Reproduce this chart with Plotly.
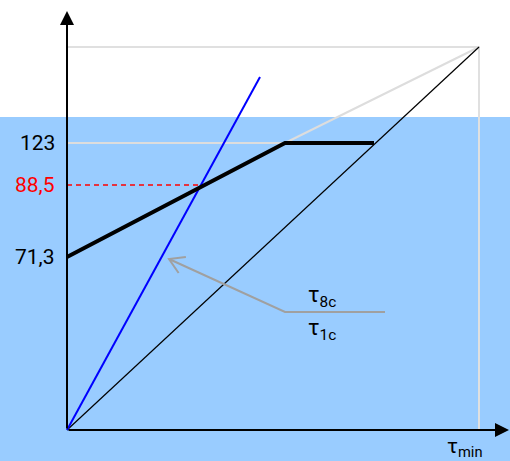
import math
import plotly.graph_objects as go

# Diagram coordinates: origin at the axes corner, units along each axis
x_range = [-67, 443]
y_range = [-31, 430]

# Level positions on the vertical axis and their labels
level_pos = [287, 245, 173]
level_text = ["123", "88,5", "71,3"]
level_color = ["black", "red", "black"]

# Thick characteristic: start, knee, end
thick_x = [0, 218, 307]
thick_y = [173, 287, 287]

# Upper-right corner of the reference box
corner = (412, 383)

# Steep blue line from the origin
blue_x = [0, 193]
blue_y = [0, 353]

# Red dashed level reaches the intersection point
red_x = [0, 133]
red_y = [245, 245]

# Gray pointer: label leader, knee, tip
pointer_x = [318, 218, 102]
pointer_y = [118, 118, 171]

# Tinted band upper edge
band_top = 313

fig = go.Figure()

def line(xs, ys, color, width, dash=None):
    fig.add_trace(go.Scatter(
        x=xs, y=ys, mode="lines", hoverinfo="skip", showlegend=False,
        line=dict(color=color, width=width, dash=dash),
    ))

# light guide lines
line([0, corner[0], corner[0]], [corner[1], corner[1], 0], "#E0E0E0", 2)
line([0, thick_x[1]], [thick_y[1], thick_y[1]], "#DDDDDD", 2)
line([thick_x[1], corner[0]], [thick_y[1], corner[1]], "#DDDDDD", 2)

# thin diagonal
line([0, corner[0]], [0, corner[1]], "black", 1.2)

# blue line
line(blue_x, blue_y, "#0000FF", 2)

# red dashed level
line(red_x, red_y, "red", 1.6, dash="5px,4px")

# thick characteristic
line(thick_x, thick_y, "black", 4)

# gray pointer with an open arrowhead computed from its last segment
line(pointer_x, pointer_y, "#A0A0A0", 2)
tx, ty = pointer_x[-1], pointer_y[-1]
dx, dy = pointer_x[-2] - tx, pointer_y[-2] - ty
ang = math.atan2(dy, dx)
head_len, head_ang = 17, math.radians(31)
hx = [tx + head_len * math.cos(ang + head_ang), tx, tx + head_len * math.cos(ang - head_ang)]
hy = [ty + head_len * math.sin(ang + head_ang), ty, ty + head_len * math.sin(ang - head_ang)]
line(hx, hy, "#A0A0A0", 2)

# axes with filled arrowheads
for ax_, ay_, x_, y_ in [(0, 0, 0, 419), (0, 0, 442, 0)]:
    fig.add_annotation(
        x=x_, y=y_, ax=ax_, ay=ay_, xref="x", yref="y", axref="x", ayref="y",
        text="", showarrow=True, arrowhead=2, arrowsize=1.4, arrowwidth=2,
        arrowcolor="black",
    )

# level labels
for pos, txt, col in zip(level_pos, level_text, level_color):
    fig.add_annotation(
        x=-10, y=pos, xref="x", yref="y", text=txt, showarrow=False,
        xanchor="right", yanchor="middle",
        font=dict(family="Roboto", size=21, color=col),
    )

# pointer labels
fig.add_annotation(x=255, y=134, xref="x", yref="y", text="τ<sub>8c</sub>",
                   showarrow=False, xanchor="center", yanchor="middle",
                   font=dict(family="Roboto", size=22, color="black"))
fig.add_annotation(x=255, y=101, xref="x", yref="y", text="τ<sub>1c</sub>",
                   showarrow=False, xanchor="center", yanchor="middle",
                   font=dict(family="Roboto", size=22, color="black"))

# horizontal axis label
fig.add_annotation(x=398, y=-17, xref="x", yref="y", text="τ<sub>min</sub>",
                   showarrow=False, xanchor="center", yanchor="middle",
                   font=dict(family="Roboto", size=21, color="black"))

fig.update_layout(
    width=510, height=461,
    margin=dict(l=0, r=0, t=0, b=0),
    paper_bgcolor="white", plot_bgcolor="white",
    xaxis=dict(range=x_range, visible=False, fixedrange=True),
    yaxis=dict(range=y_range, visible=False, fixedrange=True),
    shapes=[dict(type="rect", xref="x", yref="y", x0=x_range[0], x1=x_range[1],
                 y0=y_range[0], y1=band_top, fillcolor="#99CCFF",
                 line=dict(width=0), layer="below")],
)

fig.write_html("out.html")
